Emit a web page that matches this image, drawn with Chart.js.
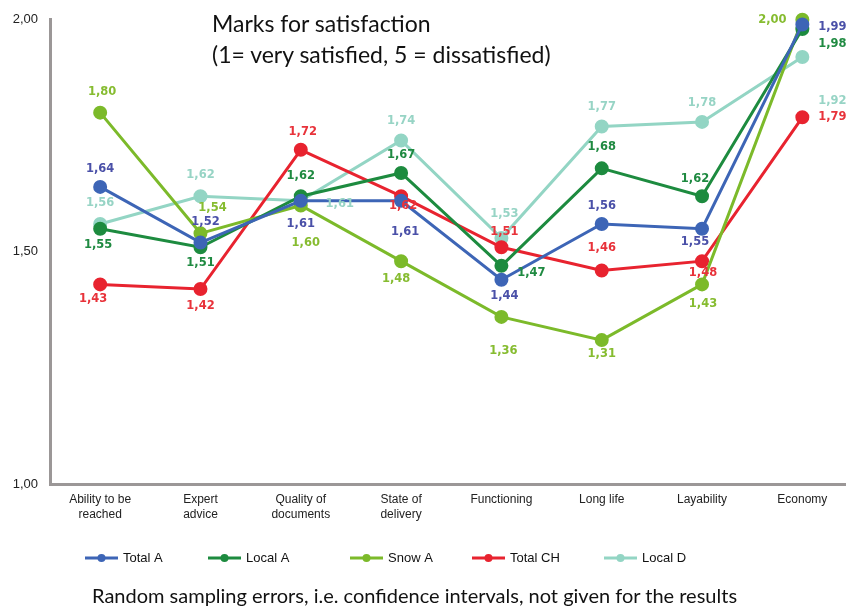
<!DOCTYPE html>
<html>
<head>
<meta charset="utf-8">
<script src="https://cdn.jsdelivr.net/npm/chart.js@4.4.1/dist/chart.umd.min.js"></script>
<style>
  html, body { margin: 0; padding: 0; background: #ffffff; overflow: hidden; width: 846px; height: 609px; }
  #wrap { position: absolute; left: 0; top: 0; width: 861px; height: 609px; }
  .txt { position: absolute; font-family: Lato, "Open Sans", sans-serif; color: #111; white-space: nowrap; }
  #title { left: 212px; top: 8px; font-size: 23px; line-height: 31px; }
  #footer { left: 92px; top: 583px; font-size: 20px; line-height: 24px; }
</style>
</head>
<body>
<div id="wrap"><canvas id="c" width="861" height="609"></canvas></div>
<div id="title" class="txt">Marks for satisfaction<br>(1= very satisfied, 5 = dissatisfied)</div>
<div id="footer" class="txt">Random sampling errors, i.e. confidence intervals, not given for the results</div>
<script>
// ---- data ----
const categories = [["Ability to be", "reached"], ["Expert", "advice"], ["Quality of", "documents"], ["State of", "delivery"], "Functioning", "Long life", "Layability", "Economy"];
const seriesNames = ["Total A", "Local A", "Snow A", "Total CH", "Local D"];
const totalA  = [1.64, 1.52, 1.61, 1.61, 1.44, 1.56, 1.55, 1.99];
const localA  = [1.55, 1.51, 1.62, 1.67, 1.47, 1.68, 1.62, 1.98];
const snowA   = [1.80, 1.54, 1.60, 1.48, 1.36, 1.31, 1.43, 2.00];
const totalCH = [1.43, 1.42, 1.72, 1.62, 1.51, 1.46, 1.48, 1.79];
const localD  = [1.56, 1.62, 1.61, 1.74, 1.53, 1.77, 1.78, 1.92];
const yTicks  = [1.00, 1.50, 2.00];

// ---- styles ----
const lineColors  = ["#3d65b6", "#1d8b3f", "#7cba2a", "#e8232f", "#93d5c4"];
const labelColors = ["#4a50a8", "#1f8a41", "#86bc30", "#e8323a", "#97d4c5"];
// label offsets (dx, dy) from each point, in pixels
const labelOffsets = [
  [[0,-18],[5,-21],[0,23],[4,31],[3,16],[0,-18],[-7,13],[30,3]],
  [[-2,16],[0,16],[0,-20],[0,-18],[30,7],[0,-21],[-7,-17],[30,15]],
  [[2,-21],[12,-25],[5,38],[-5,18],[2,34],[0,14],[1,20],[-30,0]],
  [[-7,15],[0,17],[2,-18],[2,10],[3,-15],[0,-22],[1,12],[30,0]],
  [[0,-21],[0,-21],[39,3],[0,-19],[3,-24],[0,-20],[0,-19],[30,44]]
];
const legendX = [85, 208, 350, 472, 604];
const legendY = 558;

const fmt = v => v.toFixed(2).replace('.', ',');

const allSeries = [totalA, localA, snowA, totalCH, localD];
const datasets = allSeries.map((vals, i) => ({
  label: seriesNames[i],
  data: vals,
  borderColor: lineColors[i],
  backgroundColor: lineColors[i],
  pointBackgroundColor: lineColors[i],
  pointBorderColor: lineColors[i],
  borderWidth: 3,
  pointRadius: 5.5,
  pointHoverRadius: 5.5,
  tension: 0,
  clip: false
}));

const pointLabels = {
  id: 'pointLabels',
  afterDatasetsDraw(chart) {
    const ctx = chart.ctx;
    ctx.save();
    ctx.font = 'bold 11.5px "DejaVu Sans", sans-serif';
    ctx.textAlign = 'center';
    ctx.textBaseline = 'middle';
    chart.data.datasets.forEach((ds, di) => {
      const meta = chart.getDatasetMeta(di);
      meta.data.forEach((pt, i) => {
        const off = labelOffsets[di][i];
        ctx.fillStyle = labelColors[di];
        ctx.fillText(fmt(ds.data[i]), pt.x + off[0], pt.y + off[1]);
      });
    });
    ctx.restore();
  }
};

const customLegend = {
  id: 'customLegend',
  afterDraw(chart) {
    const ctx = chart.ctx;
    ctx.save();
    chart.data.datasets.forEach((ds, i) => {
      const x = legendX[i], y = legendY;
      ctx.strokeStyle = ds.borderColor;
      ctx.lineWidth = 3;
      ctx.beginPath();
      ctx.moveTo(x, y);
      ctx.lineTo(x + 33, y);
      ctx.stroke();
      ctx.fillStyle = ds.borderColor;
      ctx.beginPath();
      ctx.arc(x + 16.5, y, 4, 0, Math.PI * 2);
      ctx.fill();
      ctx.fillStyle = '#111';
      ctx.font = '13px "Liberation Sans", Arial, sans-serif';
      ctx.textAlign = 'left';
      ctx.textBaseline = 'middle';
      ctx.fillText(ds.label, x + 38, y);
    });
    ctx.restore();
  }
};

new Chart(document.getElementById('c'), {
  type: 'line',
  data: { labels: categories, datasets: datasets },
  plugins: [pointLabels, customLegend],
  options: {
    responsive: false,
    animation: false,
    events: [],
    layout: { padding: { top: 15, left: 0, right: 0, bottom: 0 } },
    plugins: { legend: { display: false }, tooltip: { enabled: false }, title: { display: false } },
    scales: {
      x: {
        type: 'category',
        offset: true,
        afterFit: s => { s.height = 125; },
        grid: { display: false, drawTicks: false },
        border: { display: true, color: '#9b9797', width: 3 },
        ticks: {
          autoSkip: false, maxRotation: 0, minRotation: 0, padding: 8,
          color: '#222',
          font: { family: '"Liberation Sans", Arial, sans-serif', size: 12, lineHeight: 1.25 }
        }
      },
      y: {
        min: 1, max: 2,
        afterFit: s => { s.width = 50; },
        afterBuildTicks: s => { s.ticks = yTicks.map(v => ({ value: v })); },
        grid: { display: false, drawTicks: false },
        border: { display: true, color: '#9b9797', width: 3 },
        ticks: {
          padding: 12,
          color: '#222',
          font: { family: '"Liberation Sans", Arial, sans-serif', size: 13 },
          callback: v => fmt(v)
        }
      }
    }
  }
});
</script>
</body>
</html>
